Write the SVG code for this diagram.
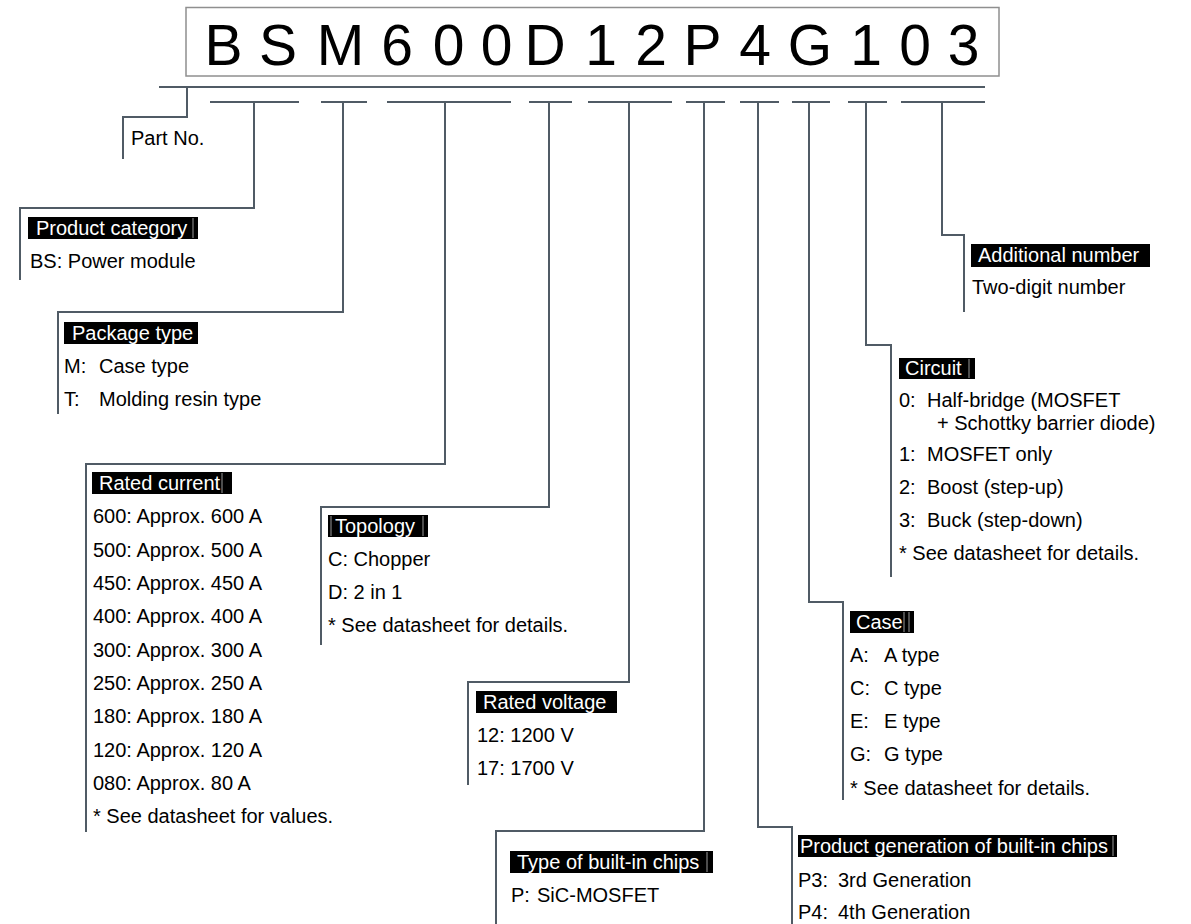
<svg xmlns="http://www.w3.org/2000/svg" width="1191" height="924" viewBox="0 0 1191 924">
<style>
text{font-family:"Liberation Sans",Arial,sans-serif;font-size:20px;fill:#000}
.title{font-size:57px}
.lbl{fill:#000}
.lt{fill:#fff}
.conn{fill:none;stroke:#505b65;stroke-width:2}
.tick{stroke:#9a9a9a;stroke-width:1}
</style>
<rect width="1191" height="924" fill="#fff"/>
<g id="title">
<rect x="186" y="7.5" width="813" height="68.5" fill="#fff" stroke="#8f8f8f" stroke-width="1.5"/>
<text class="title" y="65" text-anchor="middle" x="223.5 278 340.5 397 448.5 496.5 545 601 651 702.5 755 810 866 915 963.5">BSM600D12P4G103</text>
</g>
<g id="connectors" class="conn">
<line x1="159" y1="87" x2="985" y2="87"/>
<line x1="210" y1="102" x2="299" y2="102"/>
<line x1="321" y1="102" x2="367" y2="102"/>
<line x1="387" y1="102" x2="511" y2="102"/>
<line x1="529" y1="102" x2="572" y2="102"/>
<line x1="588" y1="102" x2="672" y2="102"/>
<line x1="686" y1="102" x2="725" y2="102"/>
<line x1="740" y1="102" x2="779" y2="102"/>
<line x1="792" y1="102" x2="830" y2="102"/>
<line x1="848" y1="102" x2="887" y2="102"/>
<line x1="901" y1="102" x2="985" y2="102"/>
<polyline points="187,87 187,117 123,117 123,159"/>
<polyline points="254,102 254,208 20,208 20,280"/>
<polyline points="343,102 343,312 58,312 58,414"/>
<polyline points="445,102 445,464 86,464 86,832"/>
<polyline points="549,102 549,507 321,507 321,645"/>
<polyline points="629,102 629,682 468,682 468,785"/>
<polyline points="704,102 704,831 496,831 496,924"/>
<polyline points="758,102 758,827 792,827 792,924"/>
<polyline points="809,102 809,602 843,602 843,800"/>
<polyline points="866,102 866,345 891,345 891,577"/>
<polyline points="942,102 942,235 964,235 964,312"/>
</g>
<g id="part-no">
<text x="131" y="145">Part No.</text>
</g>
<g id="product-category">
<rect class="lbl" x="28" y="217" width="170" height="22"/>
<line class="tick" x1="193" y1="218" x2="193" y2="238"/>
<text class="lt" x="36" y="235">Product category</text>
<text x="30" y="268">BS: Power module</text>
</g>
<g id="package-type">
<rect class="lbl" x="64" y="322" width="134" height="22"/>
<text class="lt" x="72" y="340">Package type</text>
<text x="64" y="373">M:</text><text x="99" y="373">Case type</text>
<text x="64" y="406">T:</text><text x="99" y="406">Molding resin type</text>
</g>
<g id="rated-current">
<rect class="lbl" x="92" y="472" width="140" height="22"/>
<line class="tick" x1="222" y1="473" x2="222" y2="493"/>
<text class="lt" x="99" y="490">Rated current</text>
<text x="93" y="523">600: Approx. 600 A</text>
<text x="93" y="557">500: Approx. 500 A</text>
<text x="93" y="590">450: Approx. 450 A</text>
<text x="93" y="623">400: Approx. 400 A</text>
<text x="93" y="657">300: Approx. 300 A</text>
<text x="93" y="690">250: Approx. 250 A</text>
<text x="93" y="723">180: Approx. 180 A</text>
<text x="93" y="757">120: Approx. 120 A</text>
<text x="93" y="790">080: Approx. 80 A</text>
<text x="93" y="823">* See datasheet for values.</text>
</g>
<g id="topology">
<rect class="lbl" x="328" y="515" width="100" height="22"/>
<line class="tick" x1="331" y1="516" x2="331" y2="536"/>
<line class="tick" x1="423" y1="516" x2="423" y2="536"/>
<text class="lt" x="335" y="533">Topology</text>
<text x="328" y="566">C: Chopper</text>
<text x="328" y="599">D: 2 in 1</text>
<text x="328" y="632">* See datasheet for details.</text>
</g>
<g id="rated-voltage">
<rect class="lbl" x="476" y="691" width="141" height="22"/>
<text class="lt" x="483" y="709">Rated voltage</text>
<text x="477" y="742">12: 1200 V</text>
<text x="477" y="775">17: 1700 V</text>
</g>
<g id="chip-type">
<rect class="lbl" x="510" y="851" width="203" height="22"/>
<line class="tick" x1="707" y1="852" x2="707" y2="872"/>
<text class="lt" x="517" y="869">Type of built-in chips</text>
<text x="511" y="902">P:</text><text x="537" y="902">SiC-MOSFET</text>
</g>
<g id="chip-generation">
<rect class="lbl" x="798" y="835" width="319" height="22"/>
<line class="tick" x1="1113" y1="836" x2="1113" y2="856"/>
<text class="lt" x="800" y="853">Product generation of built-in chips</text>
<text x="798" y="887">P3:</text><text x="838" y="887">3rd Generation</text>
<text x="798" y="919">P4:</text><text x="838" y="919">4th Generation</text>
</g>
<g id="case">
<rect class="lbl" x="850" y="611" width="64" height="22"/>
<line class="tick" x1="904" y1="612" x2="904" y2="632"/>
<line class="tick" x1="909" y1="612" x2="909" y2="632"/>
<text class="lt" x="856" y="629">Case</text>
<text x="850" y="662">A:</text><text x="884" y="662">A type</text>
<text x="850" y="695">C:</text><text x="884" y="695">C type</text>
<text x="850" y="728">E:</text><text x="884" y="728">E type</text>
<text x="850" y="761">G:</text><text x="884" y="761">G type</text>
<text x="850" y="795">* See datasheet for details.</text>
</g>
<g id="circuit">
<rect class="lbl" x="899" y="358" width="76" height="21"/>
<line class="tick" x1="969" y1="359" x2="969" y2="378"/>
<text class="lt" x="905" y="375">Circuit</text>
<text x="899" y="407">0:</text><text x="927" y="407">Half-bridge (MOSFET</text>
<text x="937" y="430">+ Schottky barrier diode)</text>
<text x="899" y="461">1:</text><text x="927" y="461">MOSFET only</text>
<text x="899" y="494">2:</text><text x="927" y="494">Boost (step-up)</text>
<text x="899" y="527">3:</text><text x="927" y="527">Buck (step-down)</text>
<text x="899" y="560">* See datasheet for details.</text>
</g>
<g id="additional-number">
<rect class="lbl" x="971" y="244" width="179" height="23"/>
<text class="lt" x="978" y="262">Additional number</text>
<text x="972" y="294">Two-digit number</text>
</g>
</svg>
